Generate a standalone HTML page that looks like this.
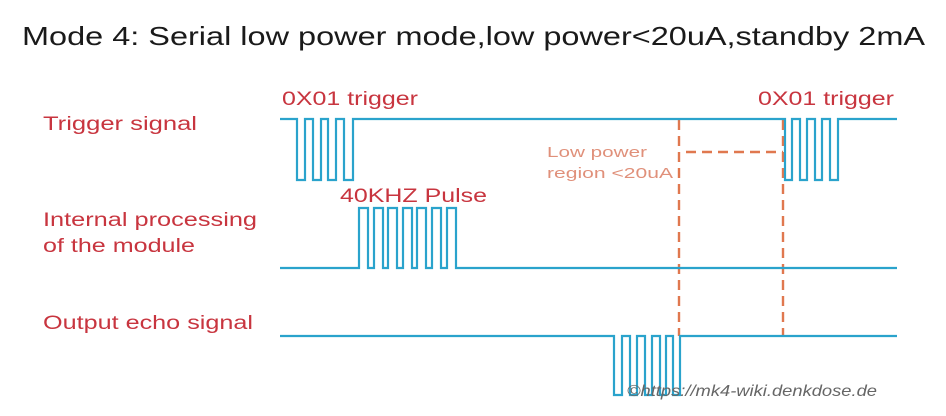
<!DOCTYPE html>
<html><head><meta charset="utf-8"><style>
html,body{margin:0;padding:0;background:#fff;}
svg{display:block;}
text{font-family:"Liberation Sans",sans-serif;}
</style></head><body>
<svg width="946" height="416" viewBox="0 0 946 416" xmlns="http://www.w3.org/2000/svg">
<rect width="946" height="416" fill="#fff"/>
<text x="22" y="45" font-size="26" fill="#1a1a1a" textLength="903" lengthAdjust="spacingAndGlyphs">Mode 4: Serial low power mode,low power&lt;20uA,standby 2mA</text>
<g fill="#c8353f" font-size="19">
<text x="43" y="130" textLength="154" lengthAdjust="spacingAndGlyphs">Trigger signal</text>
<text x="43" y="226" textLength="214" lengthAdjust="spacingAndGlyphs">Internal processing</text>
<text x="43" y="252" textLength="152" lengthAdjust="spacingAndGlyphs">of the module</text>
<text x="43" y="329" textLength="210" lengthAdjust="spacingAndGlyphs">Output echo signal</text>
<text x="282" y="105" textLength="136" lengthAdjust="spacingAndGlyphs">0X01 trigger</text>
<text x="758" y="105" textLength="136" lengthAdjust="spacingAndGlyphs">0X01 trigger</text>
<text x="340" y="202" textLength="147" lengthAdjust="spacingAndGlyphs">40KHZ Pulse</text>
</g>
<g fill="#e0907a" font-size="15">
<text x="547" y="157" textLength="100" lengthAdjust="spacingAndGlyphs">Low power</text>
<text x="547" y="178" textLength="126" lengthAdjust="spacingAndGlyphs">region &lt;20uA</text>
</g>
<g stroke="#e0784f" stroke-width="2.4" stroke-dasharray="10,6" fill="none">
<line x1="679" y1="120" x2="679" y2="336"/>
<line x1="783" y1="120" x2="783" y2="336"/>
<line x1="686" y1="152" x2="783" y2="152"/>
</g>
<g stroke="#2aa3cc" stroke-width="2.2" fill="none" stroke-linejoin="miter">
<polyline points="280,119 297,119 297,180 305,180 305,119 313,119 313,180 321,180 321,119 328,119 328,180 336,180 336,119 344,119 344,180 353,180 353,119 785,119 785,180 792,180 792,119 800,119 800,180 807,180 807,119 815,119 815,180 822,180 822,119 830,119 830,180 838,180 838,119 897,119"/>
<polyline points="280,268 359,268 359,208 368,208 368,268 374,268 374,208 383,208 383,268 388,268 388,208 397,208 397,268 403,268 403,208 412,208 412,268 417,268 417,208 426,208 426,268 432,268 432,208 441,208 441,268 447,268 447,208 456,208 456,268 897,268"/>
<polyline points="280,336 614,336 614,395 622,395 622,336 630,336 630,395 637,395 637,336 645,336 645,395 652,395 652,336 660,336 660,395 666,395 666,336 673,336 673,395 680,395 680,336 897,336"/>
</g>
<text x="627" y="396" font-size="16" font-style="italic" fill="#666" textLength="250" lengthAdjust="spacingAndGlyphs">©https://mk4-wiki.denkdose.de</text>
</svg>
</body></html>
